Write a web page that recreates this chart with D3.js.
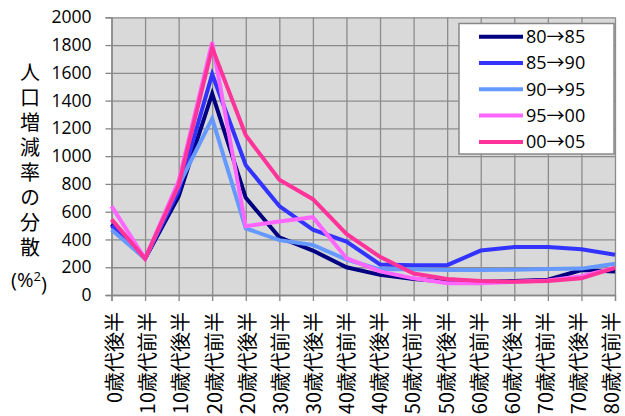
<!DOCTYPE html>
<html lang="ja">
<head>
    <meta charset="utf-8">
    <title>人口増減率の分散</title>
    <script src="https://cdnjs.cloudflare.com/ajax/libs/d3/7.8.5/d3.min.js"></script>
    <style>
        body { margin: 0; background: #ffffff; }
        svg { display: block; }
        .ytick text { font-family: "Open Sans", sans-serif; font-size: 17.5px; fill: #000; }
        .xtick text { font-family: "Noto Sans CJK JP", sans-serif; font-size: 20px; fill: #000; }
        .ytitle { font-family: "Noto Sans CJK JP", sans-serif; font-size: 20px; fill: #000;
                  writing-mode: vertical-rl; text-orientation: upright; letter-spacing: 5px; }
        .unit { font-family: "Open Sans", "Noto Sans CJK JP", sans-serif; font-size: 20px; fill: #000; }
        .legendlabel { font-family: "Open Sans", "Noto Sans CJK JP", sans-serif; font-size: 18px; fill: #000; }
    </style>
</head>
<body>
<div id="chart"></div>
<script>
    //Categories (age groups) along the x axis
    var categories = ["0歳代後半", "10歳代前半", "10歳代後半", "20歳代前半", "20歳代後半",
        "30歳代前半", "30歳代後半", "40歳代前半", "40歳代後半", "50歳代前半", "50歳代後半",
        "60歳代前半", "60歳代後半", "70歳代前半", "70歳代後半", "80歳代前半"];

    //Y axis ticks
    var yTicks = [0, 200, 400, 600, 800, 1000, 1200, 1400, 1600, 1800, 2000];

    //Series names and colours
    var seriesNames = ["80→85", "85→90", "90→95", "95→00", "00→05"];
    var seriesColors = ["#000080", "#3333ff", "#6699ff", "#ff66ff", "#ff3399"];

    //Series values
    var s80to85 = [510, 262, 710, 1450, 700, 415, 320, 200, 145, 115, 95, 95, 100, 110, 180, 170];
    var s85to90 = [500, 262, 750, 1590, 935, 640, 470, 385, 220, 215, 215, 320, 345, 345, 330, 290];
    var s90to95 = [470, 262, 790, 1270, 480, 395, 360, 255, 185, 185, 180, 180, 182, 188, 190, 225];
    var s95to00 = [640, 262, 820, 1820, 495, 530, 560, 265, 170, 120, 85, 85, 95, 105, 135, 195];
    var s00to05 = [545, 262, 790, 1780, 1150, 830, 690, 440, 275, 155, 115, 100, 95, 100, 120, 195];

    var seriesValues = [s80to85, s85to90, s90to95, s95to00, s00to05];

    //Width and height
    var w = 625;
    var h = 416;
    var plotLeft = 111.5, plotRight = 615, plotTop = 17.3, plotBottom = 295;

    var svg = d3.select("#chart")
        .append("svg")
        .attr("width", w)
        .attr("height", h);

    var x = d3.scalePoint()
        .domain(categories)
        .range([plotLeft, plotRight]);

    var y = d3.scaleLinear()
        .domain([0, 2000])
        .range([plotBottom, plotTop]);

    //Plot background
    svg.append("rect")
        .attr("x", plotLeft)
        .attr("y", plotTop)
        .attr("width", plotRight - plotLeft)
        .attr("height", plotBottom - plotTop)
        .attr("fill", "#d9d9d9");

    //Gridlines
    var grid = svg.append("g").attr("class", "grid");
    grid.append("g")
        .attr("transform", "translate(" + plotLeft + ",0)")
        .call(d3.axisLeft(y).tickValues(yTicks).tickSize(-(plotRight - plotLeft)).tickFormat(""));
    grid.append("g")
        .attr("transform", "translate(0," + plotBottom + ")")
        .call(d3.axisBottom(x).tickSize(-(plotBottom - plotTop)).tickFormat(""));
    grid.selectAll("line").attr("stroke", "#8c8c8c").attr("stroke-width", 1.3);
    grid.selectAll(".domain").remove();

    //Y axis
    var yAxis = svg.append("g")
        .attr("class", "ytick")
        .attr("transform", "translate(" + plotLeft + ",0)")
        .call(d3.axisLeft(y).tickValues(yTicks).tickFormat(d3.format("d")).tickSize(6).tickPadding(14));
    yAxis.selectAll("line").attr("stroke", "#868686").attr("stroke-width", 1.3);
    yAxis.select(".domain").attr("stroke", "#868686").attr("stroke-width", 1.3);

    //X axis, labels turned to read upwards and hung from the axis
    var xAxis = svg.append("g")
        .attr("class", "xtick")
        .attr("transform", "translate(0," + plotBottom + ")")
        .call(d3.axisBottom(x).tickSize(6));
    xAxis.selectAll("line").attr("stroke", "#868686").attr("stroke-width", 1.3);
    xAxis.select(".domain").attr("stroke", "#868686").attr("stroke-width", 1.3);
    //labels sit a bit right of the first tick and a bit left of the last one
    xAxis.selectAll("text")
        .attr("transform", "rotate(-90)")
        .attr("x", -17)
        .attr("y", function (d, i) { return 3 - i * 6.5 / (categories.length - 1); })
        .attr("dy", "0.36em")
        .style("text-anchor", "end");

    //Series lines
    var line = d3.line()
        .x(function (d, i) { return x(categories[i]); })
        .y(function (d) { return y(d); });

    svg.selectAll(".series")
        .data(seriesValues)
        .enter()
        .append("path")
        .attr("class", "series")
        .attr("d", line)
        .attr("fill", "none")
        .attr("stroke", function (d, i) { return seriesColors[i]; })
        .attr("stroke-width", 4);

    //Y axis title, written vertically
    svg.append("text")
        .attr("class", "ytitle")
        .attr("x", 30)
        .attr("y", 62)
        .text("人口増減率の分散");

    var unit = svg.append("text")
        .attr("class", "unit")
        .attr("x", 29)
        .attr("y", 280)
        .attr("dy", "0.35em")
        .attr("text-anchor", "middle");
    unit.append("tspan").text("(%");
    unit.append("tspan").attr("dy", "-0.5em").attr("font-size", "13px").text("2");
    unit.append("tspan").attr("dy", "0.5em").text(")");

    //Legend
    var legend = svg.append("g").attr("class", "legend");
    legend.append("rect")
        .attr("x", 459)
        .attr("y", 23.5)
        .attr("width", 155)
        .attr("height", 130.5)
        .attr("fill", "#ffffff")
        .attr("stroke", "#888888")
        .attr("stroke-width", 1.5);

    var rows = legend.selectAll(".row")
        .data(seriesNames)
        .enter()
        .append("g")
        .attr("class", "row")
        .attr("transform", function (d, i) { return "translate(0," + (36.7 + i * 26.3) + ")"; });

    rows.append("line")
        .attr("x1", 479)
        .attr("x2", 523)
        .attr("stroke", function (d, i) { return seriesColors[i]; })
        .attr("stroke-width", 4);

    rows.append("text")
        .attr("class", "legendlabel")
        .attr("x", 526)
        .attr("dy", "0.35em")
        .text(function (d) { return d; });
</script>
</body>
</html>
